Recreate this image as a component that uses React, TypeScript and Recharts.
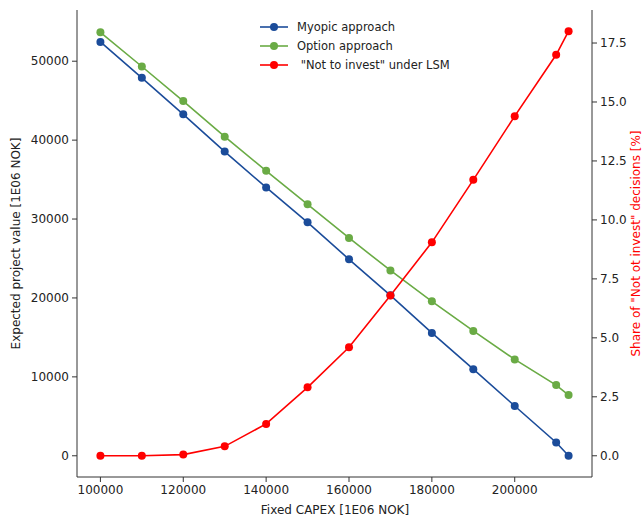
import React from 'react';
import { LineChart, Line, XAxis, YAxis, Legend, Customized } from 'recharts';

const capex = [100000, 110000, 120000, 130000, 140000, 150000, 160000, 170000, 180000, 190000, 200000, 210000, 213000];
const myopic = [52440, 47890, 43270, 38550, 34000, 29580, 24900, 20330, 15570, 10980, 6310, 1680, 0];
const option = [53660, 49330, 44950, 40440, 36110, 31860, 27600, 23480, 19570, 15820, 12210, 8960, 7700];
const notInvest = [0, 0, 0.05, 0.4, 1.35, 2.9, 4.6, 6.8, 9.05, 11.7, 14.4, 17.0, 18.0];

const xTicks = [100000, 120000, 140000, 160000, 180000, 200000];
const leftTicks = [0, 10000, 20000, 30000, 40000, 50000];
const rightTicks = [0, 2.5, 5, 7.5, 10, 12.5, 15, 17.5];

const seriesNames = ['Myopic approach', 'Option approach', ' "Not to invest" under LSM'];
const BLUE = '#1b4c9a';
const GREEN = '#6aab45';
const RED = '#ff0000';
const colors = [BLUE, GREEN, RED];

const data = capex.map((c, i) => ({ capex: c, myopic: myopic[i], option: option[i], notInvest: notInvest[i] }));

const FONT = '"DejaVu Sans", sans-serif';
const AX = '#333';
const tickStyle = { fontSize: 12, fill: '#222', fontFamily: FONT };

const LegendContent = () => (
  <div style={{ fontFamily: FONT, fontSize: 11.5, color: '#222' }}>
    {seriesNames.map((n, i) => (
      <div key={n} style={{ display: 'flex', alignItems: 'center', height: 19, whiteSpace: 'pre' }}>
        <svg width={28} height={10} style={{ marginRight: 9 }}>
          <line x1={0} y1={5} x2={28} y2={5} stroke={colors[i]} strokeWidth={1.6} />
          <circle cx={14} cy={5} r={4} fill={colors[i]} />
        </svg>
        <span>{n}</span>
      </div>
    ))}
  </div>
);

const Labels = () => (
  <g fontFamily={FONT} fontSize={12}>
    <text x={335} y={510} textAnchor="middle" dominantBaseline="central" fill="#222">Fixed CAPEX [1E06 NOK]</text>
    <text x={16} y={243.5} textAnchor="middle" dominantBaseline="central" fill="#222" transform="rotate(-90 16 243.5)">Expected project value [1E06 NOK]</text>
    <text x={636} y={243.5} textAnchor="middle" dominantBaseline="central" fill={RED} transform="rotate(-90 636 243.5)">Share of "Not ot invest" decisions [%]</text>
  </g>
);

export default function App() {
  return (
    <div style={{ position: 'absolute', left: 0, top: 0, width: 644, height: 520 }}>
      <LineChart width={644} height={520} data={data} margin={{ top: 10, right: 0, bottom: 0, left: 0 }}>
        <XAxis
          dataKey="capex"
          type="number"
          domain={[94350, 218650]}
          ticks={xTicks}
          allowDataOverflow
          height={43}
          tick={tickStyle}
          tickSize={5}
          tickMargin={3}
          stroke={AX}
          axisLine={{ stroke: AX }}
          tickLine={{ stroke: AX }}
        />
        <XAxis
          xAxisId="top"
          orientation="top"
          dataKey="capex"
          type="number"
          domain={[94350, 218650]}
          height={0}
          tick={false}
          tickLine={false}
          axisLine={{ stroke: AX }}
        />
        <YAxis
          yAxisId="left"
          orientation="left"
          type="number"
          domain={[-2690, 56490]}
          ticks={leftTicks}
          allowDataOverflow
          width={77}
          tick={tickStyle}
          tickSize={5}
          tickMargin={3}
          axisLine={{ stroke: AX }}
          tickLine={{ stroke: AX }}
        />
        <YAxis
          yAxisId="right"
          orientation="right"
          type="number"
          domain={[-0.9, 18.9]}
          ticks={rightTicks}
          allowDataOverflow
          width={52}
          tick={tickStyle}
          tickSize={5}
          tickMargin={3}
          tickFormatter={(v: number) => v.toFixed(1)}
          axisLine={{ stroke: AX }}
          tickLine={{ stroke: AX }}
        />
        <Legend
          layout="vertical"
          align="center"
          verticalAlign="middle"
          wrapperStyle={{ left: 260, top: 17, width: 240, height: 60 }}
          content={<LegendContent />}
        />
        <Line yAxisId="left" dataKey="myopic" name={seriesNames[0]} stroke={BLUE} strokeWidth={1.6}
          dot={{ r: 4, fill: BLUE, stroke: BLUE, strokeWidth: 0 }} activeDot={false} isAnimationActive={false} />
        <Line yAxisId="left" dataKey="option" name={seriesNames[1]} stroke={GREEN} strokeWidth={1.6}
          dot={{ r: 4, fill: GREEN, stroke: GREEN, strokeWidth: 0 }} activeDot={false} isAnimationActive={false} />
        <Line yAxisId="right" dataKey="notInvest" name={seriesNames[2]} stroke={RED} strokeWidth={1.6}
          dot={{ r: 4, fill: RED, stroke: RED, strokeWidth: 0 }} activeDot={false} isAnimationActive={false} />
        <Customized component={Labels} />
      </LineChart>
    </div>
  );
}
